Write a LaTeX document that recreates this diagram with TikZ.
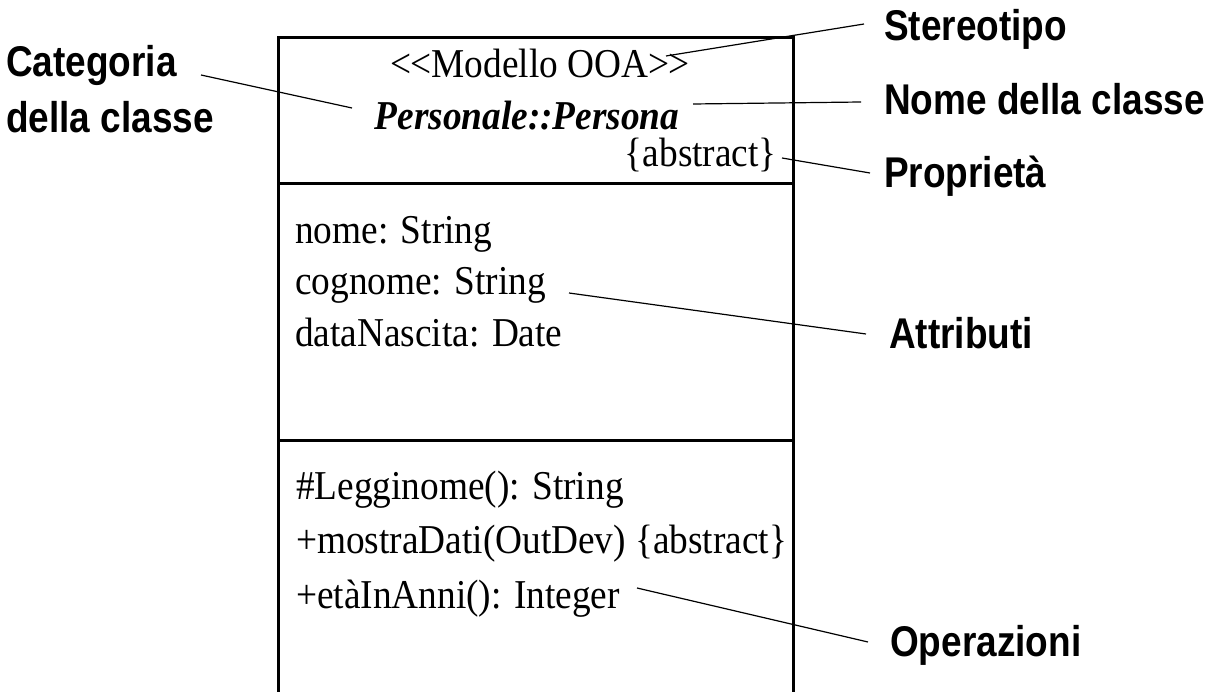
\documentclass[tikz,border=0pt]{standalone}
\usepackage{fontspec}
\setmainfont{Liberation Serif}[FakeStretch=0.91]
\newfontfamily\calloutfont{Liberation Sans}[FakeStretch=0.86]
\tikzset{
  boxline/.style={line width=3pt, line join=miter},
  leader/.style={line width=1.2pt},
  member/.style={inner sep=0pt, font=\fontsize{41}{45}\selectfont},
  callout/.style={inner sep=0pt, anchor=base west,
    font=\calloutfont\bfseries\fontsize{43}{47}\selectfont},
}
\begin{document}
\begin{tikzpicture}[x=1pt,y=-1pt]
  \useasboundingbox (0,0) rectangle (1211,692);

  % class box, open at the bottom
  \draw[boxline] (278.5,692) -- (278.5,37.5) -- (793,37.5) -- (793,692);
  \draw[boxline] (278.5,183.5) -- (793,183.5);
  \draw[boxline] (278.5,441) -- (793,441);

  % name compartment
  \node[member, anchor=base] (stereo) at (540,78)
    {<\kern-1pt<Modello OOA>\kern-1pt>};
  \node[member, anchor=base, font=\fontsize{41}{45}\selectfont\bfseries\itshape]
    (cname) at (527,130) {Personale::Persona};
  \node[member, anchor=base east] (prop) at (777,167) {\{abstract\}};

  % attributes
  \node[member, anchor=base west] (a1) at (295,244) {nome: String};
  \node[member, anchor=base west] (a2) at (295,295) {cognome: String};
  \node[member, anchor=base west] (a3) at (295,347) {dataNascita: Date};

  % operations
  \node[member, anchor=base west] (o1) at (296,500) {\#Legginome(): String};
  \node[member, anchor=base west] (o2) at (296,553) {+mostraDati(OutDev) \{abstract\}};
  \node[member, anchor=base west] (o3) at (296,608) {+etàInAnni(): Integer};

  % callout labels
  \node[callout] (lcat1) at (6,77) {Categoria};
  \node[callout] (lcat2) at (6,133) {della classe};
  \node[callout] (lster) at (884,41) {Stereotipo};
  \node[callout] (lname) at (884,115) {Nome della classe};
  \node[callout] (lprop) at (884,188) {Proprietà};
  \node[callout] (lattr) at (889,349) {Attributi};
  \node[callout] (lops)  at (890,656) {Operazioni};

  % leader line end points
  \coordinate (cat-a) at (201,75);   \coordinate (cat-b) at (352,108);
  \coordinate (ste-a) at (864,24);   \coordinate (ste-b) at (666,56);
  \coordinate (nam-a) at (861,102);  \coordinate (nam-b) at (693,104);
  \coordinate (pro-a) at (870,173);  \coordinate (pro-b) at (782,158);
  \coordinate (att-a) at (866,334);  \coordinate (att-b) at (569,293);
  \coordinate (ops-a) at (868,642);  \coordinate (ops-b) at (637,588);

  \draw[leader] (cat-a) -- (cat-b);
  \draw[leader] (ste-a) -- (ste-b);
  \draw[leader] (nam-a) -- (nam-b);
  \draw[leader] (pro-a) -- (pro-b);
  \draw[leader] (att-a) -- (att-b);
  \draw[leader] (ops-a) -- (ops-b);
\end{tikzpicture}
\end{document}
